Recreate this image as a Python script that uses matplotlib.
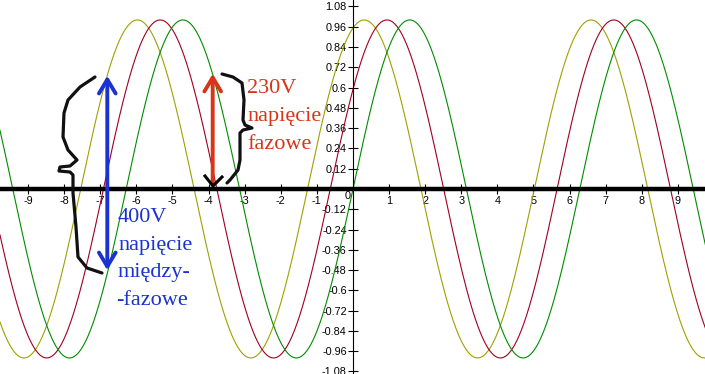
import matplotlib.pyplot as plt
import numpy as np
from matplotlib.patches import FancyArrowPatch

# three phases (shift to the left, in x units)
phase_names = ['L1', 'L2', 'L3']
phase_shift = [1.26, 0.63, 0.0]
amplitude = [1.0, 1.0, 1.0]
line_colors = ['#a0a000', '#a00020', '#008c00']

x_ticks = [-9, -8, -7, -6, -5, -4, -3, -2, -1, 1, 2, 3, 4, 5, 6, 7, 8, 9]
y_ticks = [-1.08, -0.96, -0.84, -0.72, -0.6, -0.48, -0.36, -0.24, -0.12,
           0.12, 0.24, 0.36, 0.48, 0.6, 0.72, 0.84, 0.96, 1.08]

blue_lines = ['400V', 'napięcie', 'między-', '-fazowe']
red_lines = ['230V', 'napięcie', 'fazowe']

W, H = 705, 374
fig = plt.figure(figsize=(W / 100, H / 100), dpi=100)
ax = fig.add_axes([0, 0, 1, 1])
ax.set_xlim(-9.778, 9.751)
ax.set_ylim(-1.095, 1.118)


def px(x, y):
    # pixel position (from top left) -> figure fraction
    return (x / W, 1 - y / H)


x = np.linspace(-10, 10, 2000)
for name, s, a, c in zip(phase_names, phase_shift, amplitude, line_colors):
    ax.plot(x, a * np.sin(x + s), color=c, lw=0.8, label=name)

for side in ['top', 'right']:
    ax.spines[side].set_visible(False)
ax.spines['bottom'].set_position(('data', 0))
ax.spines['left'].set_position(('data', 0))
ax.spines['bottom'].set_linewidth(3.2)
ax.spines['left'].set_linewidth(0.8)

ax.set_xticks(x_ticks)
ax.set_xticklabels([str(t) for t in x_ticks])
ax.set_yticks(y_ticks)
ax.set_yticklabels([f'{t:g}' for t in y_ticks])
ax.tick_params(axis='x', direction='inout', length=7, width=0.8, pad=1.5,
               labelsize=7.8)
ax.tick_params(axis='y', direction='inout', length=7, width=0.8, pad=1,
               labelsize=7.8)
for lab in ax.get_xticklabels() + ax.get_yticklabels():
    lab.set_family('Liberation Sans')
ax.text(*px(351, 191), '0', transform=fig.transFigure, ha='right', va='top',
        fontsize=7.8, family='Liberation Sans')

# arrows
blue_arrow = FancyArrowPatch(px(107.3, 273), px(107.3, 73),
                             transform=fig.transFigure,
                             arrowstyle='<->,head_length=10,head_width=6',
                             mutation_scale=1, color='#1a32d0', lw=2.8)
fig.patches.append(blue_arrow)
red_arrow = FancyArrowPatch(px(212.7, 186), px(212.7, 71),
                            transform=fig.transFigure,
                            arrowstyle='->,head_length=10,head_width=6',
                            mutation_scale=1, color='#d83418', lw=2.8)
fig.patches.append(red_arrow)
vx = [205, 213, 222]
vy = [176, 186, 177]
fig.lines.append(plt.Line2D([v / W for v in vx], [1 - v / H for v in vy],
                            transform=fig.transFigure, color='black', lw=2.2))

# hand drawn braces
big_brace = [(95, 77), (80, 87), (68, 100), (64, 113), (63, 137), (68, 150),
             (77, 160), (70, 166), (60, 167), (59, 171), (70, 172), (73, 175),
             (73, 193), (76, 227), (78, 257), (87, 268), (102, 273)]
small_brace = [(222, 74), (233, 77), (242, 83), (244, 100), (243, 120),
               (245, 125), (252, 128), (243, 130), (240, 133), (240, 160),
               (238, 170), (230, 180), (227, 183)]
for br in [big_brace, small_brace]:
    fig.lines.append(plt.Line2D([p[0] / W for p in br], [1 - p[1] / H for p in br],
                                transform=fig.transFigure, color='#111111',
                                lw=2.3, solid_joinstyle='round',
                                solid_capstyle='round'))

# labels
blue_base = [222, 250, 277.5, 305]
blue_left = [118, 118, 118, 116]
for t, bx, by in zip(blue_lines, blue_left, blue_base):
    fig.text(*px(bx, by), t, color='#1a32d0', fontsize=16,
             family='Liberation Serif', va='baseline', ha='left')
red_base = [93, 121, 149]
for t, by in zip(red_lines, red_base):
    fig.text(*px(247, by), t, color='#d83418', fontsize=16,
             family='Liberation Serif', va='baseline', ha='left')

fig.savefig('out.png', dpi=100)
